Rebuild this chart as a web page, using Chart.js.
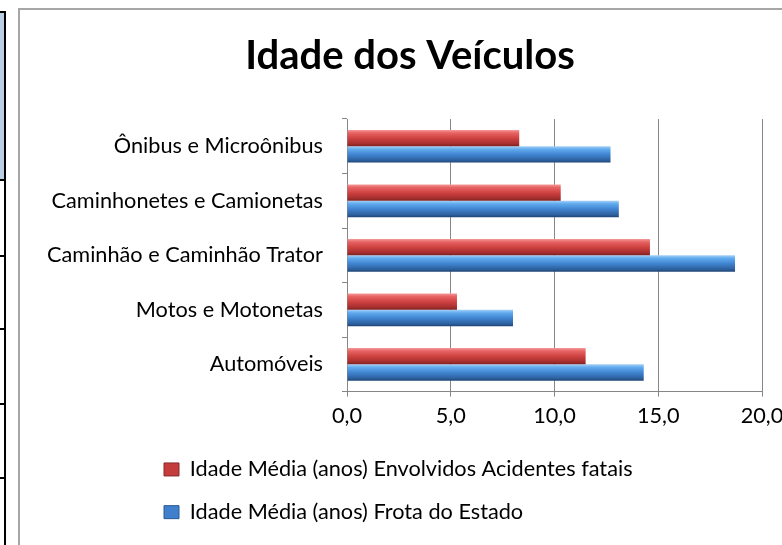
<!DOCTYPE html>
<html>
<head>
<meta charset="utf-8">
<script src="https://cdn.jsdelivr.net/npm/chart.js@4.4.1/dist/chart.umd.min.js"></script>
<style>
  body { margin: 0; background: #fff; overflow: hidden; }
  .sheet { position: relative; width: 782px; height: 545px; overflow: hidden; }
  .cell { position: absolute; left: 0; top: 12px; width: 4px; height: 168px; background: #b9cde5; }
  .rule { position: absolute; left: 4px; top: 11px; width: 2px; height: 534px; background: #000; }
  .row { position: absolute; left: 0; width: 6px; height: 2px; background: #000; }
  .frame { position: absolute; left: 18px; top: 8px; width: 900px; height: 600px; border: 2px solid #a6a6a6; }
  .chart-box { position: absolute; left: 20px; top: 11px; width: 780px; height: 534px; }
</style>
</head>
<body>
<div class="sheet">
  <div class="cell"></div>
  <div class="rule"></div>
  <div class="row" style="top:11px"></div>
  <div class="row" style="top:179px"></div>
  <div class="row" style="top:255px"></div>
  <div class="row" style="top:328px"></div>
  <div class="row" style="top:403px"></div>
  <div class="row" style="top:477px"></div>
  <div class="frame"></div>
  <div class="chart-box"><canvas id="chart"></canvas></div>
</div>
<script>
const categories = [
  "Ônibus e Microônibus",
  "Caminhonetes e Camionetas",
  "Caminhão e Caminhão Trator",
  "Motos e Motonetas",
  "Automóveis",
];
const idadeAcidentes = [8.3, 10.3, 14.6, 5.3, 11.5];
const idadeFrota = [12.7, 13.1, 18.7, 8.0, 14.3];
const xTickLabels = ["0,0", "5,0", "10,0", "15,0", "20,0"];

const seriesNames = [
  "Idade Média (anos) Envolvidos Acidentes fatais",
  "Idade Média (anos) Frota do Estado",
];
const seriesSolid = ["#c43c3c", "#3f7fcc"];
const redStops = ["#f59a9a", "#e86464", "#cf4242", "#a52e2e", "#7c2020"];
const blueStops = ["#a3d0f7", "#62abee", "#4185d2", "#2d619f", "#1f4576"];

const CAT_PCT = 0.6;
const LABEL_FONT = { family: "Lato", size: 21.7 };

// gradient per bar, so each bar gets its own rounded/glossy shading
const barFill = (stops, solid) => (c) => {
  const chart = c.chart;
  const area = chart.chartArea;
  if (!area || c.dataIndex === undefined) return solid;
  const center = chart.scales.y.getPixelForValue(c.dataIndex);
  const barH = ((area.bottom - area.top) / categories.length) * CAT_PCT / 2;
  const top = c.datasetIndex === 0 ? center - barH : center;
  const g = chart.ctx.createLinearGradient(0, top, 0, top + barH);
  g.addColorStop(0, stops[0]);
  g.addColorStop(0.18, stops[1]);
  g.addColorStop(0.5, stops[2]);
  g.addColorStop(0.85, stops[3]);
  g.addColorStop(1, stops[4]);
  return g;
};

// legend sits left-aligned under the plot; title centred on the whole frame
const blockShift = {
  id: "blockShift",
  afterLayout(chart) {
    const lg = chart.legend;
    const w = lg.right - lg.left;
    lg.left = 123;
    lg.right = lg.left + w;
    const t = chart.titleBlock;
    t.left += 19;
    t.right += 19;
  },
};

new Chart(document.getElementById("chart").getContext("2d"), {
  type: "bar",
  data: {
    labels: categories,
    datasets: [
      {
        label: seriesNames[0],
        data: idadeAcidentes,
        backgroundColor: barFill(redStops, seriesSolid[0]),
        categoryPercentage: CAT_PCT,
        barPercentage: 1,
      },
      {
        label: seriesNames[1],
        data: idadeFrota,
        backgroundColor: barFill(blueStops, seriesSolid[1]),
        categoryPercentage: CAT_PCT,
        barPercentage: 1,
      },
    ],
  },
  options: {
    indexAxis: "y",
    responsive: true,
    maintainAspectRatio: false,
    animation: false,
    layout: {
      padding: { top: 0, right: 38, bottom: 12, left: 0 },
    },
    plugins: {
      title: {
        display: true,
        text: "Idade dos Veículos",
        color: "#000",
        font: { family: "Lato", size: 40, weight: "bold" },
        padding: { top: 21, bottom: 39 },
      },
      legend: {
        position: "bottom",
        align: "start",
        labels: {
          color: "#000",
          font: LABEL_FONT,
          boxWidth: 15,
          boxHeight: 13,
          padding: 21,
          generateLabels: (chart) =>
            seriesNames.map((name, i) => ({
              text: name,
              fillStyle: seriesSolid[i],
              strokeStyle: i === 0 ? "#8a2a2a" : "#2b5a96",
              lineWidth: 1,
              datasetIndex: i,
            })),
        },
      },
      tooltip: { enabled: false },
    },
    scales: {
      x: {
        min: 0,
        max: 20,
        afterFit: (scale) => {
          scale.height = 46;
        },
        ticks: {
          stepSize: 5,
          padding: 6,
          color: "#000",
          font: LABEL_FONT,
          callback: (value, index) => xTickLabels[index],
        },
        grid: {
          color: "#868686",
          tickLength: 5,
        },
        border: { color: "#868686" },
      },
      y: {
        afterFit: (scale) => {
          scale.width = 327;
        },
        ticks: {
          padding: 19,
          color: "#000",
          font: LABEL_FONT,
        },
        grid: {
          drawOnChartArea: false,
          color: "#868686",
          tickLength: 5,
        },
        border: { color: "#868686" },
      },
    },
  },
  plugins: [blockShift],
});
</script>
</body>
</html>
